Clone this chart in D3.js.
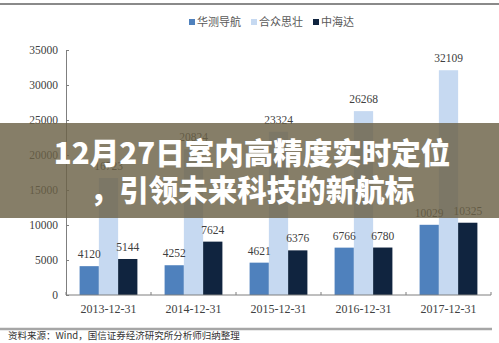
<!DOCTYPE html>
<html><head><meta charset="utf-8">
<script src="https://cdn.jsdelivr.net/npm/d3@7"></script>
<style>html,body{margin:0;padding:0;background:#fff;overflow:hidden}</style>
</head><body>
<script>
const categories = ["2013-12-31","2014-12-31","2015-12-31","2016-12-31","2017-12-31"];
const seriesNames = ["华测导航","合众思壮","中海达"];
const huace = [4120,4252,4621,6766,10029];
const hezhong = [16723,20824,23324,26268,32109];
const zhonghai = [5144,7624,6376,6780,10325];
const yTicks = [0,5000,10000,15000,20000,25000,30000,35000];
const colors = ["#4f81bd","#c6d9f1","#10243f"];
const titleLines = ["12月27日室内高精度实时定位","，引领未来科技的新航标"];
const sourceText = "资料来源：Wind，国信证券经济研究所分析师归纳整理";

const W=499,H=343;
const svg=d3.select("body").append("svg").attr("width",W).attr("height",H);
svg.append("rect").attr("width",W).attr("height",H).attr("fill","#fff");
svg.append("line").attr("x1",0).attr("x2",W).attr("y1",4).attr("y2",4).attr("stroke","#8a8a8a").attr("stroke-width",2);

const x0=d3.scaleBand().domain(categories).range([66,491]).paddingInner(0.32).paddingOuter(0.16);
const x1=d3.scaleBand().domain(seriesNames).range([0,x0.bandwidth()]);
const y=d3.scaleLinear().domain([0,35000]).range([295,50]);

const serifFont="'Liberation Serif','DejaVu Serif',serif";
const yAxis=svg.append("g").attr("transform","translate(66,0)").call(d3.axisLeft(y).tickValues(yTicks).tickSize(-3).tickPadding(8).tickFormat(d3.format("d")));
yAxis.select(".domain").attr("stroke","#7f7f7f");
yAxis.selectAll(".tick line").attr("stroke","#7f7f7f");
yAxis.selectAll("text").attr("font-family",serifFont).attr("font-size",11.5).attr("fill","#404040");

const data=categories.map((c,i)=>({c,vals:[huace[i],hezhong[i],zhonghai[i]]}));
const gBars=svg.append("g"), gLabels=svg.append("g");
data.forEach(d=>{
  d.vals.forEach((v,j)=>{
    gBars.append("rect").attr("x",x0(d.c)+x1(seriesNames[j])).attr("width",x1.bandwidth())
     .attr("y",y(v)).attr("height",y(0)-y(v)).attr("fill",colors[j]);
    gLabels.append("text").attr("x",x0(d.c)+x1(seriesNames[j])+x1.bandwidth()/2).attr("y",y(v)-8)
     .attr("text-anchor","middle").attr("font-family",serifFont).attr("font-size",11.5).attr("fill","#404040").text(v);
  });
});

const xAxis=svg.append("g").attr("transform","translate(0,295)");
xAxis.append("line").attr("x1",66).attr("x2",491).attr("y1",0).attr("y2",0).attr("stroke","#7f7f7f");
const bounds=categories.map(c=>x0(c)-x0.step()*x0.paddingInner()/2).concat([491]);
bounds.forEach(b=>xAxis.append("line").attr("x1",b).attr("x2",b).attr("y1",0).attr("y2",-3).attr("stroke","#7f7f7f"));
categories.forEach(c=>xAxis.append("text").attr("x",x0(c)+x0.bandwidth()/2).attr("y",18).attr("text-anchor","middle")
  .attr("font-family",serifFont).attr("font-size",12).attr("fill","#404040").text(c));

const legX=[189,251,313];
seriesNames.forEach((n,i)=>{
  svg.append("rect").attr("x",legX[i]).attr("y",19).attr("width",6).attr("height",6).attr("fill",colors[i]);
  svg.append("text").attr("x",legX[i]+8).attr("y",26).attr("font-family","'Noto Sans CJK SC',sans-serif").attr("font-size",11).attr("fill","#595959").text(n);
});

svg.append("line").attr("x1",0).attr("x2",492).attr("y1",329).attr("y2",329).attr("stroke","#a6a6a6").attr("stroke-width",2.5);
svg.append("text").attr("x",8).attr("y",339).attr("font-family","'Noto Sans CJK SC',sans-serif").attr("font-size",9.5).attr("fill","#333").text(sourceText);

svg.append("rect").attr("x",0).attr("y",123).attr("width",W).attr("height",95).attr("fill","#6b6147").attr("opacity",0.82);
titleLines.forEach((t,i)=>{
  svg.append("text").attr("x",252).attr("y",164+i*37).attr("text-anchor","middle")
    .attr("font-family","'Noto Sans CJK SC',sans-serif").attr("font-weight",900).attr("font-size",29.5)
    .attr("fill","#fff").text(t);
});
</script>
</body></html>
